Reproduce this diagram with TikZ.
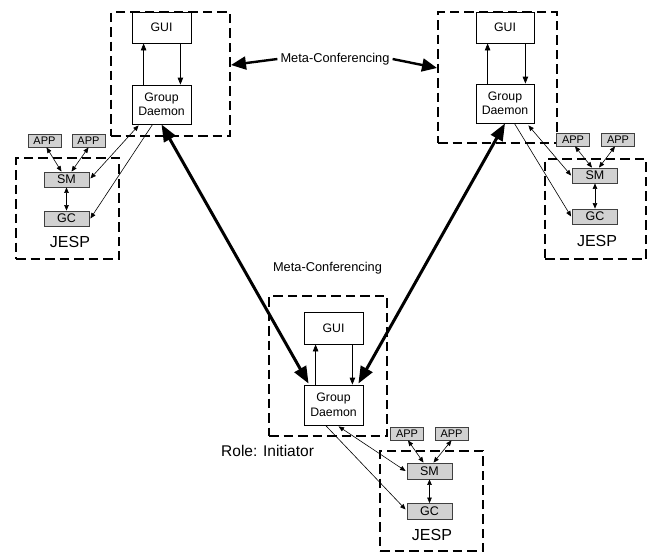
\documentclass[tikz,border=0pt]{standalone}
\usepackage{fontspec}
\setmainfont{Liberation Sans}
\usetikzlibrary{arrows.meta,calc}
\begin{document}
\begin{tikzpicture}[x=1pt,y=-1pt,
 dbox/.style={draw, line width=2.2pt, dash pattern=on 9.5pt off 5pt, inner sep=0pt},
 wbox/.style={draw, line width=0.8pt, fill=white, inner sep=0pt, minimum width=59pt, font=\fontsize{12.3}{14.5}\selectfont, align=center},
 gbox/.style={draw=black!75, line width=0.8pt, fill=black!18, inner sep=0pt, minimum width=45pt, minimum height=15pt, font=\fontsize{12.5}{14}\selectfont},
 abox/.style={draw=black!75, line width=0.8pt, fill=black!18, inner sep=0pt, minimum width=33pt, minimum height=13pt, font=\fontsize{11}{12}\selectfont},
 thinarr/.style={line width=0.6pt, -{Triangle[length=5.5pt,width=4.5pt]}},
 thinbi/.style={line width=0.6pt, {Triangle[length=5.5pt,width=4.5pt]}-{Triangle[length=5.5pt,width=4.5pt]}},
 innerarr/.style={line width=0.8pt, -{Triangle[length=7pt,width=5.5pt]}},
 bigarr/.style={line width=3pt, {Triangle[length=17pt,width=13pt]}-{Triangle[length=17pt,width=13pt]}},
 metaarr/.style={line width=2.4pt, -{Triangle[length=15pt,width=13pt]}},
 lbl/.style={inner sep=3pt, font=\fontsize{12.8}{14}\selectfont},
 jesp/.style={inner sep=0pt, font=\fontsize{16}{18}\selectfont},
]
\useasboundingbox (0,0) rectangle (655,554);

% ---------- dashed containers ----------
\node[dbox, minimum width=119pt, minimum height=124pt] (c1) at (170.5,74) {};
\node[dbox, minimum width=119pt, minimum height=131pt] (c2) at (497.5,77.5) {};
\node[dbox, minimum width=118pt, minimum height=140pt] (c3) at (328,366) {};
\node[dbox, minimum width=103pt, minimum height=101pt] (j1) at (67.5,208.5) {};
\node[dbox, minimum width=101pt, minimum height=100pt] (j2) at (595.5,209) {};
\node[dbox, minimum width=103pt, minimum height=100pt] (j3) at (431.5,501) {};

% ---------- top-left cluster ----------
\node[wbox, minimum height=31pt] (GUI1) at (161.5,27.5) {GUI};
\node[wbox, minimum height=39pt] (GD1) at (161.5,104.5) {Group\\Daemon};
\node[abox] (A1a) at (44.5,140.5) {APP};
\node[abox] (A1b) at (88.5,140.5) {APP};
\node[gbox] (SM1) at (66.5,179.5) {SM};
\node[gbox] (GC1) at (66.5,218.5) {GC};
\node[jesp] (J1t) at (70,241.5) {JESP};

% ---------- top-right cluster ----------
\node[wbox, minimum height=31pt, minimum width=58pt] (GUI2) at (505,27.5) {GUI};
\node[wbox, minimum height=39pt, minimum width=58pt] (GD2) at (505,103.5) {Group\\Daemon};
\node[abox] (A2a) at (573,139.5) {APP};
\node[abox] (A2b) at (618,139.5) {APP};
\node[gbox] (SM2) at (595,175.5) {SM};
\node[gbox] (GC2) at (595,216.5) {GC};
\node[jesp] (J2t) at (597,241) {JESP};

% ---------- bottom cluster ----------
\node[wbox, minimum height=32pt] (GUI3) at (333.5,328) {GUI};
\node[wbox, minimum height=40pt] (GD3) at (333.5,405) {Group\\Daemon};
\node[abox] (A3a) at (407,433.5) {APP};
\node[abox] (A3b) at (451.5,433.5) {APP};
\node[gbox, minimum height=16pt] (SM3) at (429.5,471) {SM};
\node[gbox, minimum height=16pt] (GC3) at (429.5,511.5) {GC};
\node[jesp] (J3t) at (432,535) {JESP};

% ---------- labels ----------
\node[lbl] (meta1) at (335,59) {Meta-Conferencing};
\node[lbl, inner sep=0pt] (meta2) at (327.5,268) {Meta-Conferencing};
\node[inner sep=0pt, anchor=west, font=\fontsize{15.5}{18}\selectfont] (role) at (221,451) {Role: Initiator};

% ---------- meta-conferencing arrows ----------
\coordinate (m1) at (231,65);
\coordinate (m2) at (437,68);
\draw[metaarr] (meta1.west) -- (m1);
\draw[metaarr] (meta1.east) -- (m2);

\draw[bigarr] (GD1.south) -- ($(GD3.north west)+(5,-1)$);
\draw[bigarr] (GD2.south) -- ($(GD3.north east)+(-5,-1)$);

% ---------- GUI <-> Daemon ----------
\draw[innerarr] ($(GD1.north west)+(12,0)$) -- ($(GUI1.south west)+(12,0)$);
\draw[innerarr] ($(GUI1.south east)+(-11,0)$) -- ($(GD1.north east)+(-11,0)$);
\draw[innerarr] ($(GD2.north west)+(12,0)$) -- ($(GUI2.south west)+(12,0)$);
\draw[innerarr] ($(GUI2.south east)+(-9,0)$) -- ($(GD2.north east)+(-9,0)$);
\draw[innerarr] ($(GD3.north west)+(12,0)$) -- ($(GUI3.south west)+(12,0)$);
\draw[innerarr] ($(GUI3.south east)+(-11,0)$) -- ($(GD3.north east)+(-11,0)$);

% ---------- Daemon <-> JESP ----------
\draw[thinbi] ($(GD1.south west)+(7,1)$) -- ($(SM1.east)+(1,-1)$);
\draw[thinarr] ($(GD1.south west)+(21,0)$) -- ($(GC1.east)+(1,0)$);
\draw[thinbi] ($(GD2.south east)+(-6,2)$) -- ($(SM2.west)+(-1,0)$);
\draw[thinarr] ($(GD2.south east)+(-20,0)$) -- ($(GC2.west)+(-1,0)$);
\draw[thinbi] ($(GD3.south west)+(35,1)$) -- ($(SM3.west)+(-1,0)$);
\draw[thinarr] ($(GD3.south west)+(22,0)$) -- ($(GC3.west)+(-1,-2)$);

% ---------- APP <-> SM, SM <-> GC ----------
\draw[thinbi] ($(A1a.south)+(2,0)$) -- ($(SM1.north)+(-5,0)$);
\draw[thinbi] (A1b.south) -- ($(SM1.north)+(5,0)$);
\draw[thinbi] (SM1.south) -- (GC1.north);

\draw[thinbi] ($(A2a.south)+(2,0)$) -- ($(SM2.north)+(-3,0)$);
\draw[thinbi] ($(A2b.south)+(-3,0)$) -- ($(SM2.north)+(4,0)$);
\draw[thinbi] (SM2.south) -- (GC2.north);

\draw[thinbi] ($(A3a.south)+(1,0)$) -- ($(SM3.north)+(-6,0)$);
\draw[thinbi] (A3b.south) -- ($(SM3.north)+(4,0)$);
\draw[thinbi] (SM3.south) -- (GC3.north);
\end{tikzpicture}
\end{document}
